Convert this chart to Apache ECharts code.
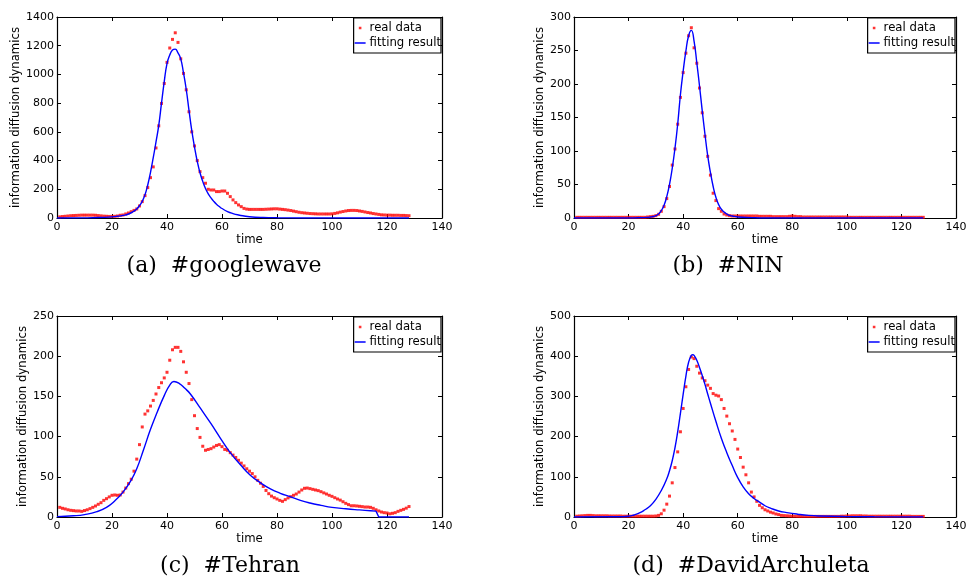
<!DOCTYPE html>
<html>
<head>
<meta charset="utf-8">
<script src="https://cdn.jsdelivr.net/npm/echarts@6/dist/echarts.min.js"></script>
<style>
  html, body { margin: 0; padding: 0; background: #ffffff; }
  #chart { width: 967px; height: 579px; }
</style>
</head>
<body>
<div id="chart"></div>
<script>
// Observed daily counts (time steps 1..128) and fitted model curves for four hashtags.
const seriesNames = ['real data', 'fitting result'];
const captions = ['(a)  #googlewave', '(b)  #NIN', '(c)  #Tehran', '(d)  #DavidArchuleta'];
const xTicks = { min: 0, max: 140, step: 20 };
const yRanges = [
  { max: 1400, step: 200 },
  { max: 300, step: 50 },
  { max: 250, step: 50 },
  { max: 500, step: 100 }
];

const googlewaveReal = [
  8, 10, 12, 14, 16, 17, 18, 19, 20, 20,
  20, 20, 20, 19, 17, 15, 13, 12, 11, 11,
  12, 14, 19, 21, 28, 35, 44, 53, 63, 84,
  114, 156, 212, 281, 356, 488, 642, 798, 937, 1084,
  1184, 1244, 1290, 1223, 1109, 1007, 893, 740, 600, 502,
  400, 323, 281, 242, 200, 195, 195, 184, 184, 188,
  188, 172, 149, 126, 107, 91, 79, 67, 62, 60,
  60, 60, 60, 60, 60, 61, 62, 63, 64, 64,
  62, 60, 58, 55, 52, 48, 44, 40, 37, 35,
  33, 31, 30, 29, 28, 28, 28, 28, 28, 29,
  32, 36, 41, 45, 49, 52, 53, 53, 52, 49,
  46, 42, 38, 35, 31, 28, 25, 22, 21, 20,
  20, 19, 19, 19, 18, 18, 17, 16
];
const googlewaveFit = [
  [0, 0], [10, 1], [15, 3], [20, 8], [22, 12], [24, 18], [26, 28], [28, 48], [29, 63], [30, 86],
  [31, 116], [32, 162], [33, 230], [34, 318], [35, 420], [36, 530], [37, 645], [38, 800], [39, 950], [40, 1075],
  [41, 1135], [42, 1170], [43, 1176], [44, 1150], [45, 1108], [46, 1010], [47, 895], [48, 750], [49, 610], [50, 495],
  [51, 395], [52, 315], [53, 255], [54, 205], [55, 168], [56, 140], [57, 116], [58, 96], [59, 80], [60, 66],
  [62, 45], [64, 31], [66, 21], [68, 14], [70, 9], [75, 4], [80, 2], [90, 0.5], [100, 0], [128, 0]
];

const ninReal = [
  1, 1, 1, 1, 1, 1, 1, 1, 1, 1,
  1, 1, 1, 1, 1, 1, 1, 1, 1, 1,
  1, 1, 1, 1, 1, 1, 1.5, 2, 2.5, 3.5,
  5.5, 10, 17, 29, 47, 79, 103, 140, 180, 217,
  246, 272, 284, 254, 231, 194, 157, 122, 92, 64,
  37, 26, 14, 10, 6, 4.5, 3.5, 3, 3, 3,
  3, 3, 3, 3, 3, 3, 3, 2.5, 2.5, 2.5,
  2.5, 2.5, 2, 2, 2, 2, 2, 2, 2.5, 3,
  2.5, 2, 2, 1.5, 1.5, 1.5, 1.5, 1.5, 1.5, 1.5,
  1.5, 1.5, 1.5, 1.5, 1.5, 1.5, 1.5, 1.5, 1.5, 1.5,
  1, 1, 1, 1, 1, 1, 1, 1, 1, 1,
  1, 1, 1, 1, 1, 1, 1, 1, 1, 1,
  1, 1, 1, 1, 1, 1, 1, 1
];
const ninFit = [
  [0, 0], [20, 0], [25, 0.5], [27, 1], [28, 1.5], [29, 2.2], [30, 3.5], [31, 6], [32, 11], [33, 19],
  [34, 32], [35, 50], [36, 74], [37, 104], [38, 140], [39, 184], [40, 219], [41, 249], [42, 272], [43, 280],
  [44, 264], [45, 232], [46, 197], [47, 160], [48, 125], [49, 93], [50, 68], [51, 47], [52, 31],
  [53, 20], [54, 13], [55, 9], [56, 6], [57, 4], [58, 3], [60, 1.5], [65, 0.5], [70, 0], [128, 0]
];

const tehranReal = [
  12, 10.8, 10, 9, 8.3, 7.9, 7.5, 7.5, 7, 8,
  9, 10.4, 12, 13.7, 15.8, 17.8, 20.7, 22.8, 25, 27,
  27.4, 27, 27.4, 31, 36, 41.5, 47, 57, 72, 90,
  112, 128, 132, 138, 145, 153, 161, 167, 173, 180,
  195, 208, 211, 211, 206, 193, 180, 166, 146, 126,
  110, 99, 88, 83, 84, 85, 87, 89, 90, 87.5,
  84, 83, 80, 77, 74, 70.5, 67, 63.5, 60, 57,
  54, 50, 45.6, 42, 38, 33, 29, 26, 24, 22.4,
  20.7, 19.5, 21.6, 23.7, 25.3, 27, 28.6, 31, 33.6, 35.7,
  36, 35.3, 34.4, 33.6, 32.8, 31.5, 30, 28.6, 27, 25.7,
  24, 22.4, 21, 19, 17, 15.4, 14, 14, 13.7, 13.3,
  12.9, 12.4, 12.4, 12, 10.8, 9, 7.5, 6.2, 5.4, 5,
  4, 4.6, 5.4, 7, 8.3, 9.5, 11, 13
];
const tehranFit = [
  [0, 0.5], [6, 1.5], [10, 3], [14.5, 6.6], [18, 12], [21, 20], [24, 31], [27, 46], [29, 60], [31.5, 84],
  [34, 109], [36.5, 131], [39, 151], [41, 164], [42.5, 168.5], [44.5, 166], [46.5, 160], [48.5, 153], [52, 136], [56, 116],
  [59.5, 97.5], [63, 80], [66.7, 65], [70.3, 52], [74, 42.5], [77.6, 35], [81.2, 29.5], [85, 25], [88.5, 20.7], [92, 17.4],
  [96, 14.5], [100, 12], [105, 10.2], [110, 8.8], [114, 7.8], [116, 7.3]
];
const tehranFitCutoff = [[116, 7.3], [117, 0], [128, 0]];

const davidReal = [
  2, 2.5, 3, 3.5, 4, 4, 3.5, 3, 3, 3,
  3, 3, 2.5, 2.5, 2.5, 2.5, 2.5, 2, 2, 2,
  2, 2, 2, 2, 2, 2, 2, 2, 2, 2.5,
  4, 8, 17, 32, 52, 85, 123, 162, 212, 270,
  324, 367, 398, 394, 375, 358, 346, 339, 328, 320,
  307, 303, 301, 292, 270, 251, 232, 214, 193, 169,
  148, 124, 105, 85, 62, 50, 39, 29, 23, 18,
  15, 12, 10, 7.5, 6, 4, 3.5, 3, 2.5, 2,
  2, 1.5, 1.5, 1.5, 1.5, 1.5, 1.5, 1.5, 1.5, 1.5,
  1.5, 1.5, 1.5, 1.5, 1.5, 1.5, 1.5, 2, 2, 2.5,
  2.5, 3, 3, 3, 3, 2.5, 2.5, 2, 2, 2,
  2, 2, 2, 2, 2, 2, 2, 2, 2, 2,
  2, 2, 2, 1.5, 1.5, 1.5, 1.5, 1.5
];
const davidFit = [
  [0, 0], [15, 0.5], [20, 2], [22, 5], [24, 10], [26, 18], [28, 28], [30, 44], [32, 66], [34, 95],
  [35, 115], [36, 140], [37, 172], [38, 212], [39, 258], [40, 305], [41, 350], [42, 385], [43, 402], [43.6, 404],
  [44, 402], [45, 390], [46, 372], [47, 352], [48, 330], [49, 306], [50, 283], [52, 238], [54, 196], [56, 160],
  [58, 128], [60, 98], [62, 75], [64, 58], [66, 46], [68, 37], [70, 28], [72, 22], [75, 15], [78, 11],
  [82, 7], [86, 4], [90, 2.5], [100, 1], [110, 0.5], [128, 0]
];

const realSets = [googlewaveReal, ninReal, tehranReal, davidReal];
const fitSets = [[googlewaveFit], [ninFit], [tehranFit, tehranFitCutoff], [davidFit]];

// ---- layout ----
const W = 967;
const grids = [
  { left: 57, top: 17, width: 385, height: 201 },
  { left: 574, top: 17, width: 382, height: 201 },
  { left: 57, top: 316, width: 385, height: 201 },
  { left: 574, top: 316, width: 382, height: 201 }
];
const yNameGaps = [33, 26.5, 25.5, 26.5];
const captionPos = [[224, 266], [728, 266], [230, 566], [751, 566]];

const sans = 'DejaVu Sans';
const black = '#000000';

// legend icons: transparent corner specks fix the icon box, the visible part sits inside
const dotIcon = 'path://M0,0L0.01,0L0,0.01Z M11,12L11.01,12L11,12.01Z M4.2,4.7h2.6v2.6h-2.6Z';
const lineIcon = 'path://M0,0L0.01,0L0,0.01Z M11,12L11.01,12L11,12.01Z M0,5.3h11v1.4h-11Z';

const option = {
  animation: false,
  backgroundColor: '#ffffff',
  grid: grids.map(g => Object.assign({ containLabel: false, outerBoundsMode: 'none' }, g)),
  xAxis: [],
  yAxis: [],
  legend: [],
  series: [],
  graphic: []
};

grids.forEach((g, i) => {
  const tickStyle = { show: true, inside: true, length: 4, lineStyle: { color: black, width: 1 } };
  const lineStyle = { show: true, onZero: false, lineStyle: { color: black, width: 1.2 } };
  const plain = v => String(v);
  option.xAxis.push({
    gridIndex: i, type: 'value', position: 'bottom',
    min: xTicks.min, max: xTicks.max, interval: xTicks.step,
    axisLine: lineStyle, axisTick: tickStyle, splitLine: { show: false },
    axisLabel: { color: black, fontFamily: sans, fontSize: 11, margin: 4, formatter: plain },
    name: 'time', nameLocation: 'middle', nameGap: 12,
    nameTextStyle: { color: black, fontFamily: sans, fontSize: 11.7 }
  });
  option.xAxis.push({
    gridIndex: i, type: 'value', position: 'top',
    min: xTicks.min, max: xTicks.max, interval: xTicks.step,
    axisLine: lineStyle, axisTick: tickStyle, splitLine: { show: false },
    axisLabel: { show: false }
  });
  option.yAxis.push({
    gridIndex: i, type: 'value', position: 'left',
    min: 0, max: yRanges[i].max, interval: yRanges[i].step,
    axisLine: lineStyle, axisTick: tickStyle, splitLine: { show: false },
    axisLabel: { color: black, fontFamily: sans, fontSize: 11, margin: 3, formatter: plain },
    name: 'information diffusion dynamics', nameLocation: 'middle', nameGap: yNameGaps[i],
    nameTextStyle: { color: black, fontFamily: sans, fontSize: 11.7 }
  });
  option.yAxis.push({
    gridIndex: i, type: 'value', position: 'right',
    min: 0, max: yRanges[i].max, interval: yRanges[i].step,
    axisLine: lineStyle, axisTick: tickStyle, splitLine: { show: false },
    axisLabel: { show: false }
  });

  option.legend.push({
    orient: 'vertical',
    right: W - (g.left + g.width) + 1,
    top: g.top + 1,
    padding: [4, 0, 4, 1],
    itemWidth: 11, itemHeight: 12, itemGap: 3,
    backgroundColor: '#ffffff',
    borderColor: black, borderWidth: 1.2, borderRadius: 0,
    selectedMode: false,
    itemStyle: { borderWidth: 0 },
    textStyle: { color: black, fontFamily: sans, fontSize: 11.7, padding: [0, 0, 0, -1] },
    data: [
      { name: seriesNames[0], icon: dotIcon, itemStyle: { color: '#ff0000', borderWidth: 0 } },
      { name: seriesNames[1], icon: lineIcon, itemStyle: { color: '#0000ff', borderWidth: 0 } }
    ]
  });

  option.series.push({
    name: seriesNames[0], type: 'scatter',
    xAxisIndex: 2 * i, yAxisIndex: 2 * i,
    data: realSets[i].map((v, k) => [k + 1, v]),
    symbol: 'rect', symbolSize: 3,
    itemStyle: { color: '#ff0000' },
    silent: true, z: 2
  });
  fitSets[i].forEach((pts, part) => {
    option.series.push({
      name: seriesNames[1], type: 'line',
      xAxisIndex: 2 * i, yAxisIndex: 2 * i,
      data: pts,
      symbol: 'none', showSymbol: false,
      smooth: part === 0 ? 0.5 : false,
      color: '#0000ff',
      itemStyle: { color: '#0000ff' },
      lineStyle: { color: '#0000ff', width: 1.4 },
      silent: true, z: 3
    });
  });

  option.graphic.push({
    type: 'text',
    x: captionPos[i][0], y: captionPos[i][1],
    style: {
      text: captions[i],
      fill: black,
      font: '22px "DejaVu Serif"',
      textAlign: 'center',
      textVerticalAlign: 'middle'
    }
  });
});

const chart = echarts.init(document.getElementById('chart'), null, { renderer: 'canvas' });
chart.setOption(option);
</script>
</body>
</html>
